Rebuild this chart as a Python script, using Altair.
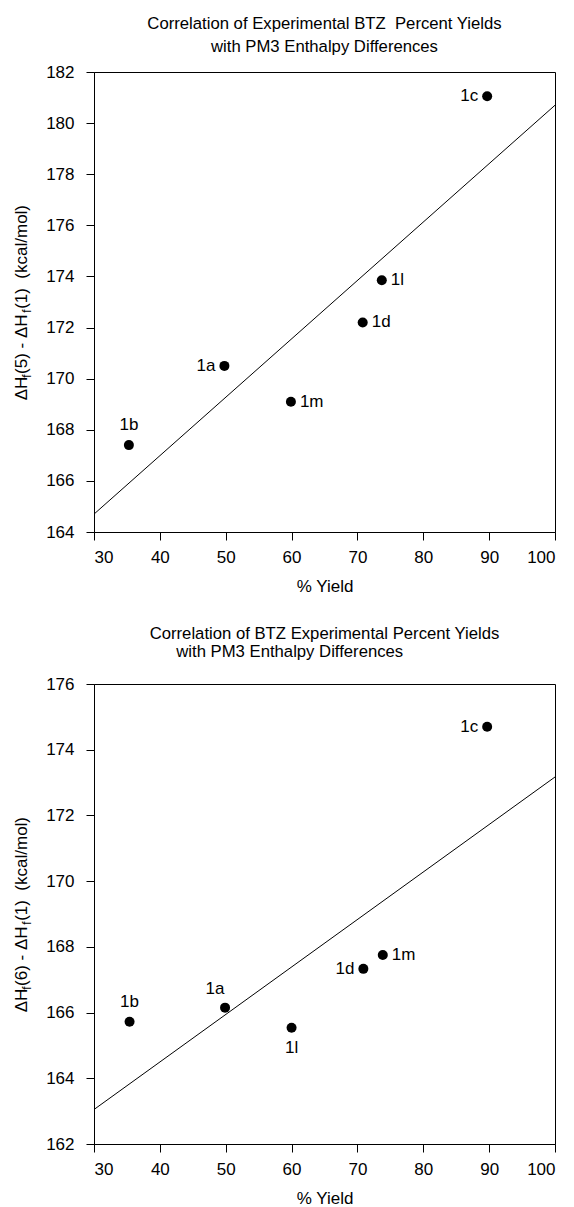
import altair as alt
import pandas as pd

FONT = "Liberation Sans"
NB = "\u00a0"

# ---------------- data: top panel (enthalpy difference 5 - 1) ----------------
labels_a = ["1a", "1b", "1c", "1d", "1l", "1m"]
yield_a = [49.8, 35.3, 89.7, 70.8, 73.7, 59.9]
dh_a = [170.5, 167.4, 181.05, 172.2, 173.85, 169.1]
place_a = ["left", "above", "left", "right", "right", "right"]
fit_x = [30, 100]
fit_a = [164.7, 180.7]

# ---------------- data: bottom panel (enthalpy difference 6 - 1) -------------
labels_b = ["1a", "1b", "1c", "1d", "1l", "1m"]
yield_b = [49.9, 35.4, 89.7, 70.9, 60.0, 73.85]
dh_b = [166.15, 165.72, 174.7, 167.33, 165.54, 167.75]
place_b = ["aboveleft", "above", "left", "left", "below", "right"]
fit_b = [163.05, 173.17]

x_ticks = [30, 40, 50, 60, 70, 80, 90, 100]
y_ticks_a = list(range(164, 183, 2))
y_ticks_b = list(range(162, 177, 2))

title_a = ["Correlation of Experimental BTZ" + NB + NB + "Percent Yields",
           "with PM3 Enthalpy Differences"]
title_b = ["Correlation of BTZ Experimental Percent Yields",
           "with PM3 Enthalpy Differences" + NB * 15 + "\u200b"]

W, H = 461, 460
FS_AX = 17
FS_SUB = 12

PLACES = {
    "left": dict(align="right", baseline="middle", dx=-9, dy=0),
    "right": dict(align="left", baseline="middle", dx=9, dy=0),
    "above": dict(align="center", baseline="middle", dx=0, dy=-20),
    "aboveleft": dict(align="center", baseline="middle", dx=-10, dy=-19),
    "below": dict(align="center", baseline="middle", dx=0, dy=20),
}


def ytitle_layers(num):
    # pieces of "ΔHf(n) - ΔHf(1)  (kcal/mol)" with subscript f, rotated
    pieces = [("\u0394H", FS_AX, 1.33, 0),
              ("f", FS_SUB, 0.32, 5),
              (NB + "(%s)" % num + NB + "-" + NB + "\u0394H", FS_AX, 3.6, 0),
              ("f", FS_SUB, 0.32, 5),
              (NB + "(1)" + NB + NB + "(kcal/mol)", FS_AX, 6.189, 0)]
    total = sum(fs * em for _, fs, em, _ in pieces)
    pos = H / 2 + total / 2
    layers = []
    one = pd.DataFrame({"k": [0]})
    for txt, fs, em, shift in pieces:
        layers.append(
            alt.Chart(one).mark_text(
                text=txt, angle=270, align="left", baseline="middle",
                font=FONT, fontSize=fs, color="black"
            ).encode(x=alt.value(-72 + shift), y=alt.value(pos))
        )
        pos -= fs * em
    return layers


def panel(labels, xs, ys, places, fit, yticks, title, lh, off, num):
    df = pd.DataFrame({"label": labels, "yield": xs, "dh": ys, "place": places})
    fdf = pd.DataFrame({"yield": fit_x, "dh": fit})
    xsc = alt.Scale(domain=[30, 100], nice=False, zero=False)
    ysc = alt.Scale(domain=[yticks[0], yticks[-1]], nice=False, zero=False)
    xenc = alt.X("yield:Q", scale=xsc,
                 axis=alt.Axis(values=x_ticks, title="% Yield", format="d",
                               labelPadding=9, titlePadding=13))
    yenc = alt.Y("dh:Q", scale=ysc,
                 axis=alt.Axis(values=yticks, title=None, format="d", labelPadding=12))
    line = alt.Chart(fdf).mark_line(color="black", strokeWidth=1).encode(x=xenc, y=yenc)
    pts = alt.Chart(df).mark_circle(size=100, color="black", opacity=1).encode(x=xenc, y=yenc)
    layers = [line, pts]
    for p, o in PLACES.items():
        layers.append(
            alt.Chart(df).transform_filter(alt.datum.place == p).mark_text(
                font=FONT, fontSize=17, color="black", **o
            ).encode(x="yield:Q", y="dh:Q", text="label:N")
        )
    layers += ytitle_layers(num)
    return alt.layer(*layers).properties(
        width=W, height=H,
        title=alt.TitleParams(text=title, font=FONT, fontSize=16.7, fontWeight="normal",
                              anchor="middle", frame="group", lineHeight=lh,
                              color="black", offset=off),
    )


top = panel(labels_a, yield_a, dh_a, place_a, fit_a, y_ticks_a, title_a, 23, 7, "5")
bot = panel(labels_b, yield_b, dh_b, place_b, fit_b, y_ticks_b, title_b, 18, 14, "6")

chart = alt.vconcat(top, bot, spacing=30).properties(
    padding={"left": 12, "top": 15, "right": 10, "bottom": 2},
    background="white",
).configure_view(stroke="black", strokeWidth=1).configure_axis(
    grid=False, domainColor="black", tickColor="black", tickSize=8,
    labelFont=FONT, labelFontSize=FS_AX, labelColor="black",
    titleFont=FONT, titleFontSize=FS_AX, titleFontWeight="normal", titleColor="black",
)

chart.save("out.html", embed_options={"renderer": "svg", "actions": False})
